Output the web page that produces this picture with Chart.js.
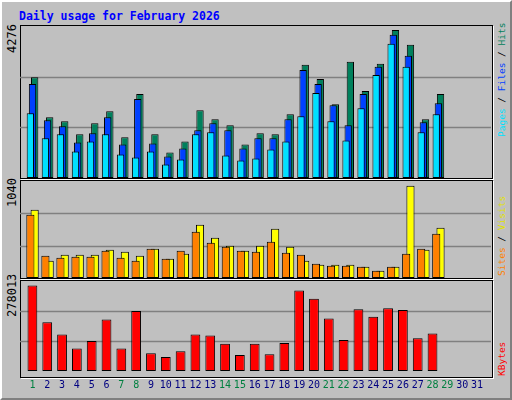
<!DOCTYPE html>
<html lang="en">
<head>
<meta charset="UTF-8" />
<title>Daily usage for February 2026</title>
<script src="https://cdn.jsdelivr.net/npm/chart.js"></script>
<style>
  body { margin: 0; background: #c0c0c0; }
  #frame {
    position: absolute; left: 0; top: 0; width: 508px; height: 396px;
    border: 2px solid; border-color: #ffffff #808080 #808080 #ffffff;
    background: #c0c0c0; font-family: "DejaVu Sans Mono", monospace;
  }
  .title { position: absolute; left: 17px; top: 7px; color: #0000ff; font-weight: bold; font-size: 11.5px; }
  .panel { position: absolute; left: 18px; width: 471px; border: 1px solid #000; box-shadow: 1px 1px 0 #fff; }
  canvas { position: absolute; }
  .rot { position: absolute; transform-origin: 0 0; transform: rotate(-90deg); font-size: 12px; white-space: nowrap; }
  .side { font-size: 9.5px; }
</style>
</head>
<body>
<div id="frame">
  <div class="title">Daily usage for February 2026</div>
  <div class="panel" style="top:23px;height:152px"></div>
  <div class="panel" style="top:178px;height:97px"></div>
  <div class="panel" style="top:278px;height:96px"></div>
  <div style="position:absolute;left:18px;top:24px;width:471px;height:152px"><canvas id="c1"></canvas></div>
  <div style="position:absolute;left:18px;top:179px;width:471px;height:97px"><canvas id="c2"></canvas></div>
  <div style="position:absolute;left:18px;top:279px;width:471px;height:118px"><canvas id="c3"></canvas></div>
  <div class="rot" style="left:3px;top:51px;color:#000">4276</div>
  <div class="rot" style="left:3px;top:205px;color:#000">1040</div>
  <div class="rot" style="left:3px;top:315px;color:#000">278013</div>
  <div class="rot side" style="left:494px;top:135px"><span style="color:#00e0ff">Pages</span><span style="color:#000"> / </span><span style="color:#0040ff">Files</span><span style="color:#000"> / </span><span style="color:#00805c">Hits</span></div>
  <div class="rot side" style="left:494px;top:274px"><span style="color:#ff8000">Sites</span><span style="color:#000"> / </span><span style="color:#e0e000">Visits</span></div>
  <div class="rot side" style="left:494px;top:374px;color:#ff0000">KBytes</div>
</div>
<script>
const days = Array.from({length: 31}, (_, i) => String(i + 1));
const weekendDays = ['1','7','8','14','15','21','22','28','29'];

const hits  = [2910,1756,1639,1261,1581,1930,1174,2425,1261,737,1057,1959,1698,1523,970,1290,1261,1843,3269,2862,2134,3356,2512,3298,4276,3851,1698,2425];
const files = [2716,1668,1494,1028,1290,1756,970,2280,999,621,854,1377,1581,1377,854,1145,1145,1698,3123,2716,2105,1523,2425,3211,4142,3531,1610,2163];
const pages = [1872,1145,1261,766,1057,1261,679,592,766,388,534,1261,1319,650,504,563,825,1057,1785,2454,1639,1086,2018,2978,3880,3211,1319,1843];

const visits = [770,195,263,263,263,319,297,252,330,218,274,601,454,364,308,364,556,353,195,150,150,150,128,83,128,1040,319,567];
const sites  = [713,252,229,240,240,308,229,195,330,218,308,522,398,353,308,297,409,285,263,161,139,139,128,83,128,274,330,499];

const kbytes = [278013,158278,118708,73051,97402,167409,73051,194803,57832,45657,63920,118708,115664,88270,51745,88270,54788,91314,261767,234373,170453,100445,200891,176540,203935,197847,106533,121752];

const gridPlugin = {
  id: 'fullGrid',
  beforeDatasetsDraw(chart) {
    const ctx = chart.ctx, y = chart.scales.y;
    const max = y.max;
    ctx.save();
    ctx.strokeStyle = '#808080';
    ctx.lineWidth = 1.5;
    [max / 3, max * 2 / 3].forEach(v => {
      const py = Math.round(y.getPixelForValue(v)) + 0.5;
      ctx.beginPath(); ctx.moveTo(0, py); ctx.lineTo(chart.width, py); ctx.stroke();
    });
    ctx.restore();
  }
};

function makeChart(id, datasets, yMax, catPct, barPct, showX) {
  return new Chart(document.getElementById(id), {
    type: 'bar',
    data: { labels: days, datasets: datasets },
    plugins: [gridPlugin],
    options: {
      responsive: true, maintainAspectRatio: false, animation: false,
      layout: { padding: { left: 5, right: 0, top: 0, bottom: 0 } },
      plugins: { legend: { display: false }, tooltip: { enabled: false } },
      datasets: { bar: { categoryPercentage: catPct, barPercentage: barPct, borderColor: '#000', borderWidth: 1, borderSkipped: false } },
      scales: {
        x: {
          display: showX,
          grid: { display: false, drawTicks: false },
          border: { display: false },
          ticks: {
            padding: 8, maxRotation: 0, autoSkip: false,
            font: { family: 'DejaVu Sans Mono', size: 10 },
            color: c => weekendDays.includes(days[c.index]) ? '#008040' : '#000080'
          }
        },
        y: { display: false, min: 0, max: yMax }
      }
    }
  });
}

// lower order is drawn on top
makeChart('c1', [
  { data: hits, backgroundColor: '#00805c', order: 3 },
  { data: files, backgroundColor: '#0040ff', order: 2 },
  { data: pages, backgroundColor: '#00e0ff', order: 1 }
], 4392, 0.43, 3.4, false);

makeChart('c2', [
  { data: visits, backgroundColor: '#ffff00', order: 2 },
  { data: sites, backgroundColor: '#ff8000', order: 1 }
], 1093, 0.57, 1.9, false);

makeChart('c3', [
  { data: kbytes, backgroundColor: '#ff0000' }
], 292300, 0.66, 1, true);
</script>
</body>
</html>
